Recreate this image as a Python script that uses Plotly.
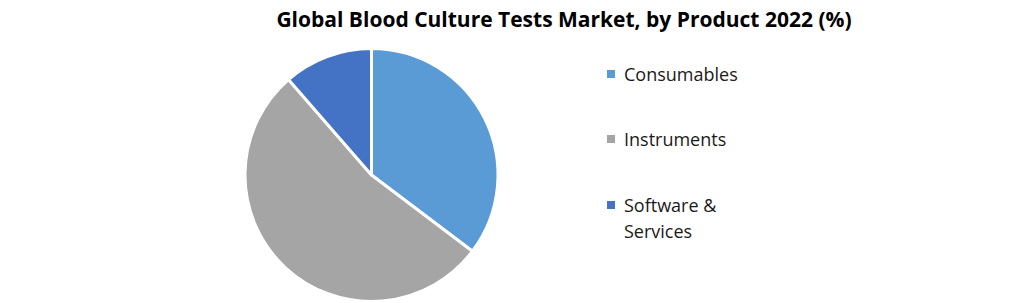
import plotly.graph_objects as go

labels = ["Consumables", "Instruments", "Software &<br>Services"]
values = [35.3, 53.3, 11.4]
colors = ["#5B9BD5", "#A5A5A5", "#4472C4"]
title = "Global Blood Culture Tests Market, by Product 2022 (%)"

W, H = 1020, 303
cx, cy, r = 371.5, 175, 126.5

fig = go.Figure(go.Pie(
    labels=labels, values=values, sort=False, direction="clockwise", rotation=0,
    marker=dict(colors=colors, line=dict(color="white", width=3)),
    textinfo="none", hoverinfo="label+percent", showlegend=False,
    domain=dict(x=[(cx - r) / W, (cx + r) / W], y=[(H - cy - r) / H, (H - cy + r) / H]),
))

shapes, annots = [], []
for lab, col, y in zip(labels, colors, [74, 139, 205]):
    shapes.append(dict(type="rect", xref="paper", yref="paper",
                       x0=607 / W, x1=615 / W, y0=(H - y - 4) / H, y1=(H - y + 4) / H,
                       fillcolor=col, line=dict(width=0)))
    for i, line in enumerate(lab.split("<br>")):
        annots.append(dict(text=line, xref="paper", yref="paper", x=622 / W, y=(H - y - 26 * i) / H,
                           xanchor="left", yanchor="middle", showarrow=False, align="left",
                           font=dict(family="Open Sans", size=18, color="#1a1a1a")))

fig.update_layout(
    width=W, height=H, margin=dict(l=0, r=0, t=0, b=0),
    paper_bgcolor="white", plot_bgcolor="white",
    title=dict(text="<b>" + title + "</b>", x=564 / W, xanchor="center", y=(H - 20) / H, yanchor="middle",
               font=dict(family="Open Sans", size=21, color="#000000")),
    shapes=shapes, annotations=annots,
)
fig.write_html("out.html")
